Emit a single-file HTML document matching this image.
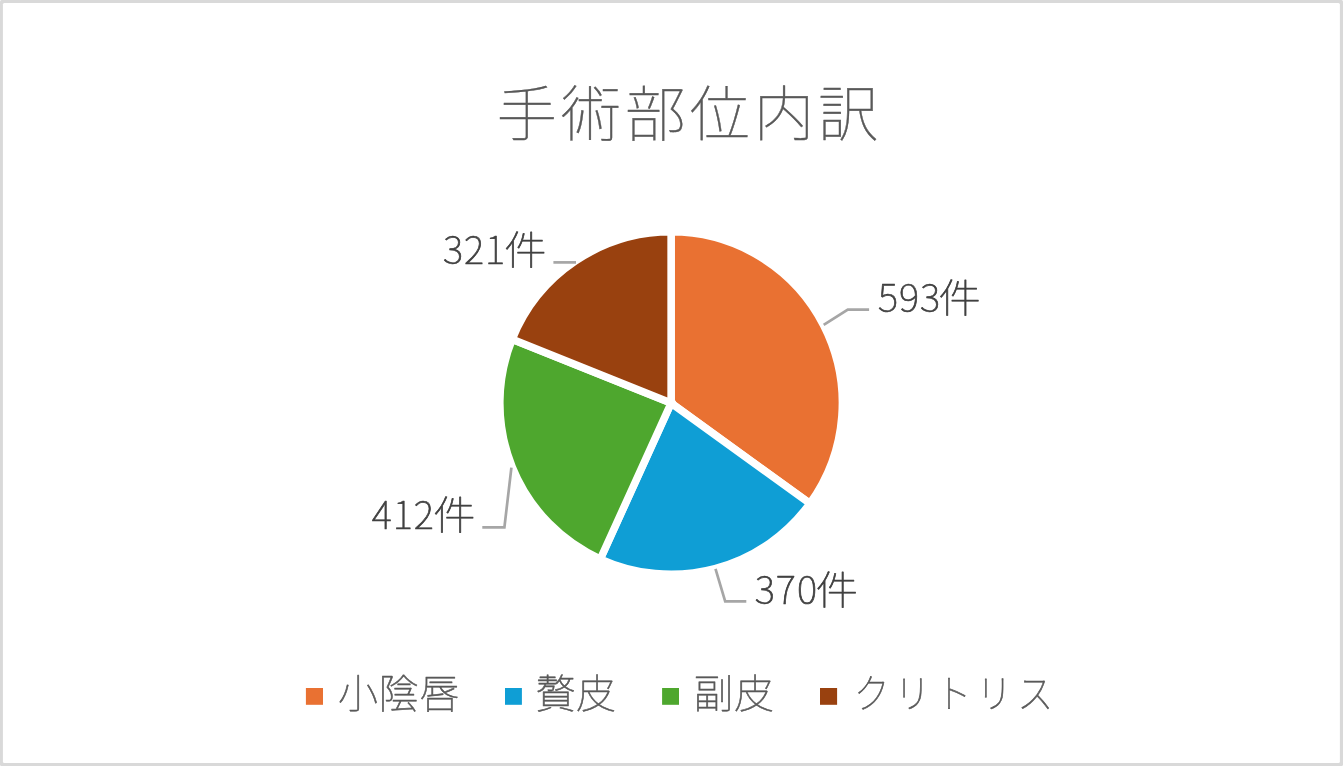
<!DOCTYPE html>
<html lang="ja">
<head>
<meta charset="utf-8">
<title>手術部位内訳</title>
<style>
  html, body { margin: 0; padding: 0; background: #ffffff; }
  body { width: 1343px; height: 766px; overflow: hidden; position: relative; }
  #chart { position: absolute; left: 0; top: 0; width: 1343px; height: 766px; display: block; will-change: transform; }
  text { font-family: "Liberation Sans", "Noto Sans CJK JP", sans-serif; font-weight: 100; stroke-linejoin: round; }
  .title { font-size: 60.5px; letter-spacing: 3.8px; fill: #595959; stroke: #595959; stroke-width: 0.4px; }
  .lbl { font-size: 40px; fill: #404040; stroke: #404040; stroke-width: 0.7px; }
  .lbl.num { font-family: "Noto Sans CJK JP", "Liberation Sans", sans-serif; font-size: 38.5px; letter-spacing: 1px; }
  .leg { font-size: 40px; letter-spacing: 0.7px; fill: #595959; stroke: #595959; stroke-width: 0.6px; }
  .leg.kana { letter-spacing: 5.44px; }
  .leader { fill: none; stroke: #A6A6A6; stroke-width: 2.7; stroke-linejoin: miter; }
  .slice { stroke: #ffffff; stroke-width: 7.5; stroke-linejoin: miter; }
</style>
</head>
<body>
<svg id="chart" width="1343" height="766" viewBox="0 0 1343 766">
  <!-- frame -->
  <rect x="0" y="0" width="1343" height="766" rx="1.5" fill="#D9D9D9"/>
  <rect x="2.9" y="2.9" width="1337" height="760.1" rx="1.5" fill="#ffffff"/>

  <!-- title -->
  <text class="title" x="496.5" y="135.7">手術部位内訳</text>

  <!-- pie -->
  <g class="slice">
    <path d="M671.10 403.10 L671.10 231.85 A171.25 171.25 0 0 1 809.87 503.45 Z" fill="#E97132"/>
    <path d="M671.10 403.10 L809.87 503.45 A171.25 171.25 0 0 1 600.33 559.04 Z" fill="#0F9ED5"/>
    <path d="M671.10 403.10 L600.33 559.04 A171.25 171.25 0 0 1 512.17 339.33 Z" fill="#4EA72E"/>
    <path d="M671.10 403.10 L512.17 339.33 A171.25 171.25 0 0 1 671.10 231.85 Z" fill="#99410F"/>
  </g>

  <!-- leader lines -->
  <polyline class="leader" points="823.7,324.9 847.8,309.6 869.1,309.6"/>
  <polyline class="leader" points="553.4,262.4 576,262.4"/>
  <polyline class="leader" points="482.3,527.3 504.4,527.3 511.4,467.6"/>
  <polyline class="leader" points="715.5,568.9 725.2,601.4 746.3,601.4"/>

  <!-- data labels -->
  <text class="lbl num" x="878" y="311.8">593</text>
  <text class="lbl ken" transform="translate(938.6 311.9) scale(1.06 0.966)">件</text>
  <text class="lbl num" x="443" y="263.5">321</text>
  <text class="lbl ken" transform="translate(504.3 263.6) scale(1.06 0.966)">件</text>
  <text class="lbl num" x="371.7" y="529.1">412</text>
  <text class="lbl ken" transform="translate(433.3 529.2) scale(1.06 0.966)">件</text>
  <text class="lbl num" x="754.8" y="603.5">370</text>
  <text class="lbl ken" transform="translate(815.8 603.6) scale(1.06 0.966)">件</text>

  <!-- legend -->
  <rect x="305.9" y="688" width="17.1" height="16.8" fill="#E97132"/>
  <text class="leg" x="338.1" y="708">小陰唇</text>
  <rect x="505" y="688" width="16.9" height="16.8" fill="#0F9ED5"/>
  <text class="leg" x="535.4" y="708">贅皮</text>
  <rect x="662.1" y="688" width="16.9" height="16.8" fill="#4EA72E"/>
  <text class="leg" x="693.3" y="708">副皮</text>
  <rect x="820" y="688" width="17.1" height="16.8" fill="#99410F"/>
  <text class="leg kana" transform="translate(853.65 708.2) scale(0.9 0.99)">クリトリス</text>
</svg>
</body>
</html>
